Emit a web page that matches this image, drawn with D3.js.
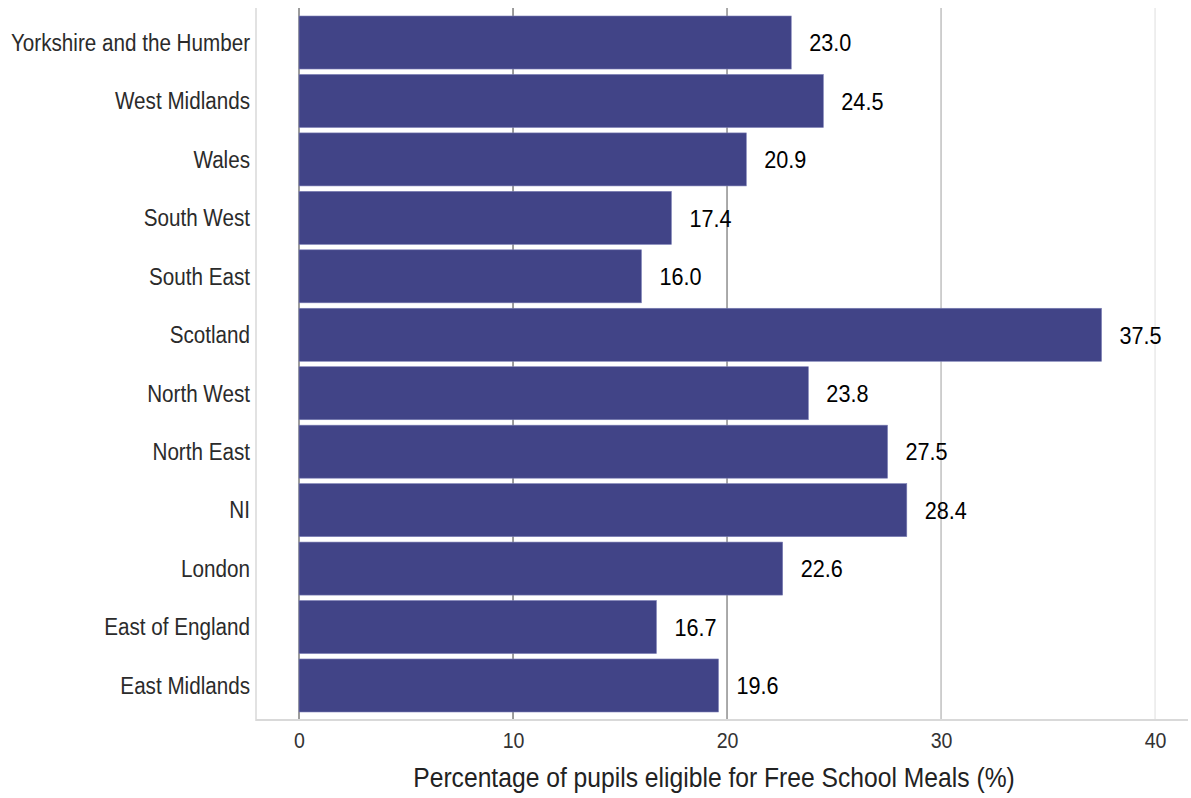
<!DOCTYPE html>
<html>
<head>
<meta charset="utf-8">
<script src="https://cdn.jsdelivr.net/npm/d3@7"></script>
<style>
  html, body { margin: 0; padding: 0; background: #fff; }
  svg { display: block; font-family: "Liberation Sans", Arial, Helvetica, sans-serif; }
</style>
</head>
<body>
<svg id="chart" width="1191" height="798"></svg>
<script>
const regions = ["Yorkshire and the Humber", "West Midlands", "Wales", "South West", "South East", "Scotland", "North West", "North East", "NI", "London", "East of England", "East Midlands"];
const fsmValues = [23.0, 24.5, 20.9, 17.4, 16.0, 37.5, 23.8, 27.5, 28.4, 22.6, 16.7, 19.6];
const xTicks = [0, 10, 20, 30, 40];
const gridColours = ["#3a3a3a", "#3a3a3a", "#555555", "#a0a0a0", "#dedede"];
const xTitle = "Percentage of pupils eligible for Free School Meals (%)";

const data = regions.map((r, i) => ({ region: r, value: fsmValues[i] }));
const SX = 0.89; // horizontal compression of the reference's text

const svg = d3.select("#chart");
const panel = { left: 256, right: 1188, top: 8, bottom: 720 };

const x = d3.scaleLinear().domain([-2.01, 41.54]).range([panel.left, panel.right]);
const y = d3.scaleBand().domain(regions).range([panel.top, panel.bottom])
  .paddingInner(0.093).paddingOuter(0.137);

// gridlines
svg.append("g").selectAll("line").data(xTicks).join("line")
  .attr("x1", d => x(d)).attr("x2", d => x(d))
  .attr("y1", panel.top).attr("y2", panel.bottom)
  .attr("stroke", (d, i) => gridColours[i]).attr("stroke-width", 1);

// bars
svg.append("g").selectAll("rect").data(data).join("rect")
  .attr("x", x(0)).attr("y", d => y(d.region))
  .attr("width", d => x(d.value) - x(0)).attr("height", y.bandwidth())
  .attr("fill", "#414487").attr("stroke", "#7b7eb5").attr("stroke-width", 0.6);

// value labels
svg.append("g").selectAll("text").data(data).join("text")
  .attr("transform", d => `translate(${x(d.value) + 18},${y(d.region) + y.bandwidth() / 2}) scale(${SX},1)`)
  .attr("dy", "0.36em").attr("font-size", "24.3px").attr("fill", "#000")
  .text(d => d.value.toFixed(1));

// axis lines
svg.append("line").attr("x1", panel.left).attr("x2", panel.left)
  .attr("y1", panel.top).attr("y2", panel.bottom + 1)
  .attr("stroke", "#d9d9d9").attr("stroke-width", 1.5);
svg.append("line").attr("x1", panel.left).attr("x2", panel.right)
  .attr("y1", panel.bottom).attr("y2", panel.bottom)
  .attr("stroke", "#d9d9d9").attr("stroke-width", 2);

// y axis labels
const yAxis = d3.axisLeft(y).tickSize(0).tickPadding(6);
const gy = svg.append("g").attr("transform", `translate(${panel.left},0)`).call(yAxis);
gy.select(".domain").remove();
gy.selectAll("text").attr("font-size", "23.2px").attr("fill", "#2b2b2b")
  .attr("font-family", "Liberation Sans, Arial, sans-serif")
  .attr("x", -6 / SX).attr("transform", `scale(${SX},1)`).attr("dy", "0.36em");

// x axis labels
const xAxis = d3.axisBottom(x).tickValues(xTicks).tickSize(0).tickPadding(12).tickFormat(d3.format("d"));
const gx = svg.append("g").attr("transform", `translate(0,${panel.bottom})`).call(xAxis);
gx.select(".domain").remove();
gx.selectAll("text").attr("font-size", "22px").attr("fill", "#333")
  .attr("font-family", "Liberation Sans, Arial, sans-serif")
  .attr("transform", `scale(${SX},1)`);

// x title
svg.append("text").attr("transform", `translate(714,787) scale(${SX},1)`)
  .attr("text-anchor", "middle").attr("font-size", "27.7px").attr("fill", "#222")
  .text(xTitle);
</script>
</body>
</html>
